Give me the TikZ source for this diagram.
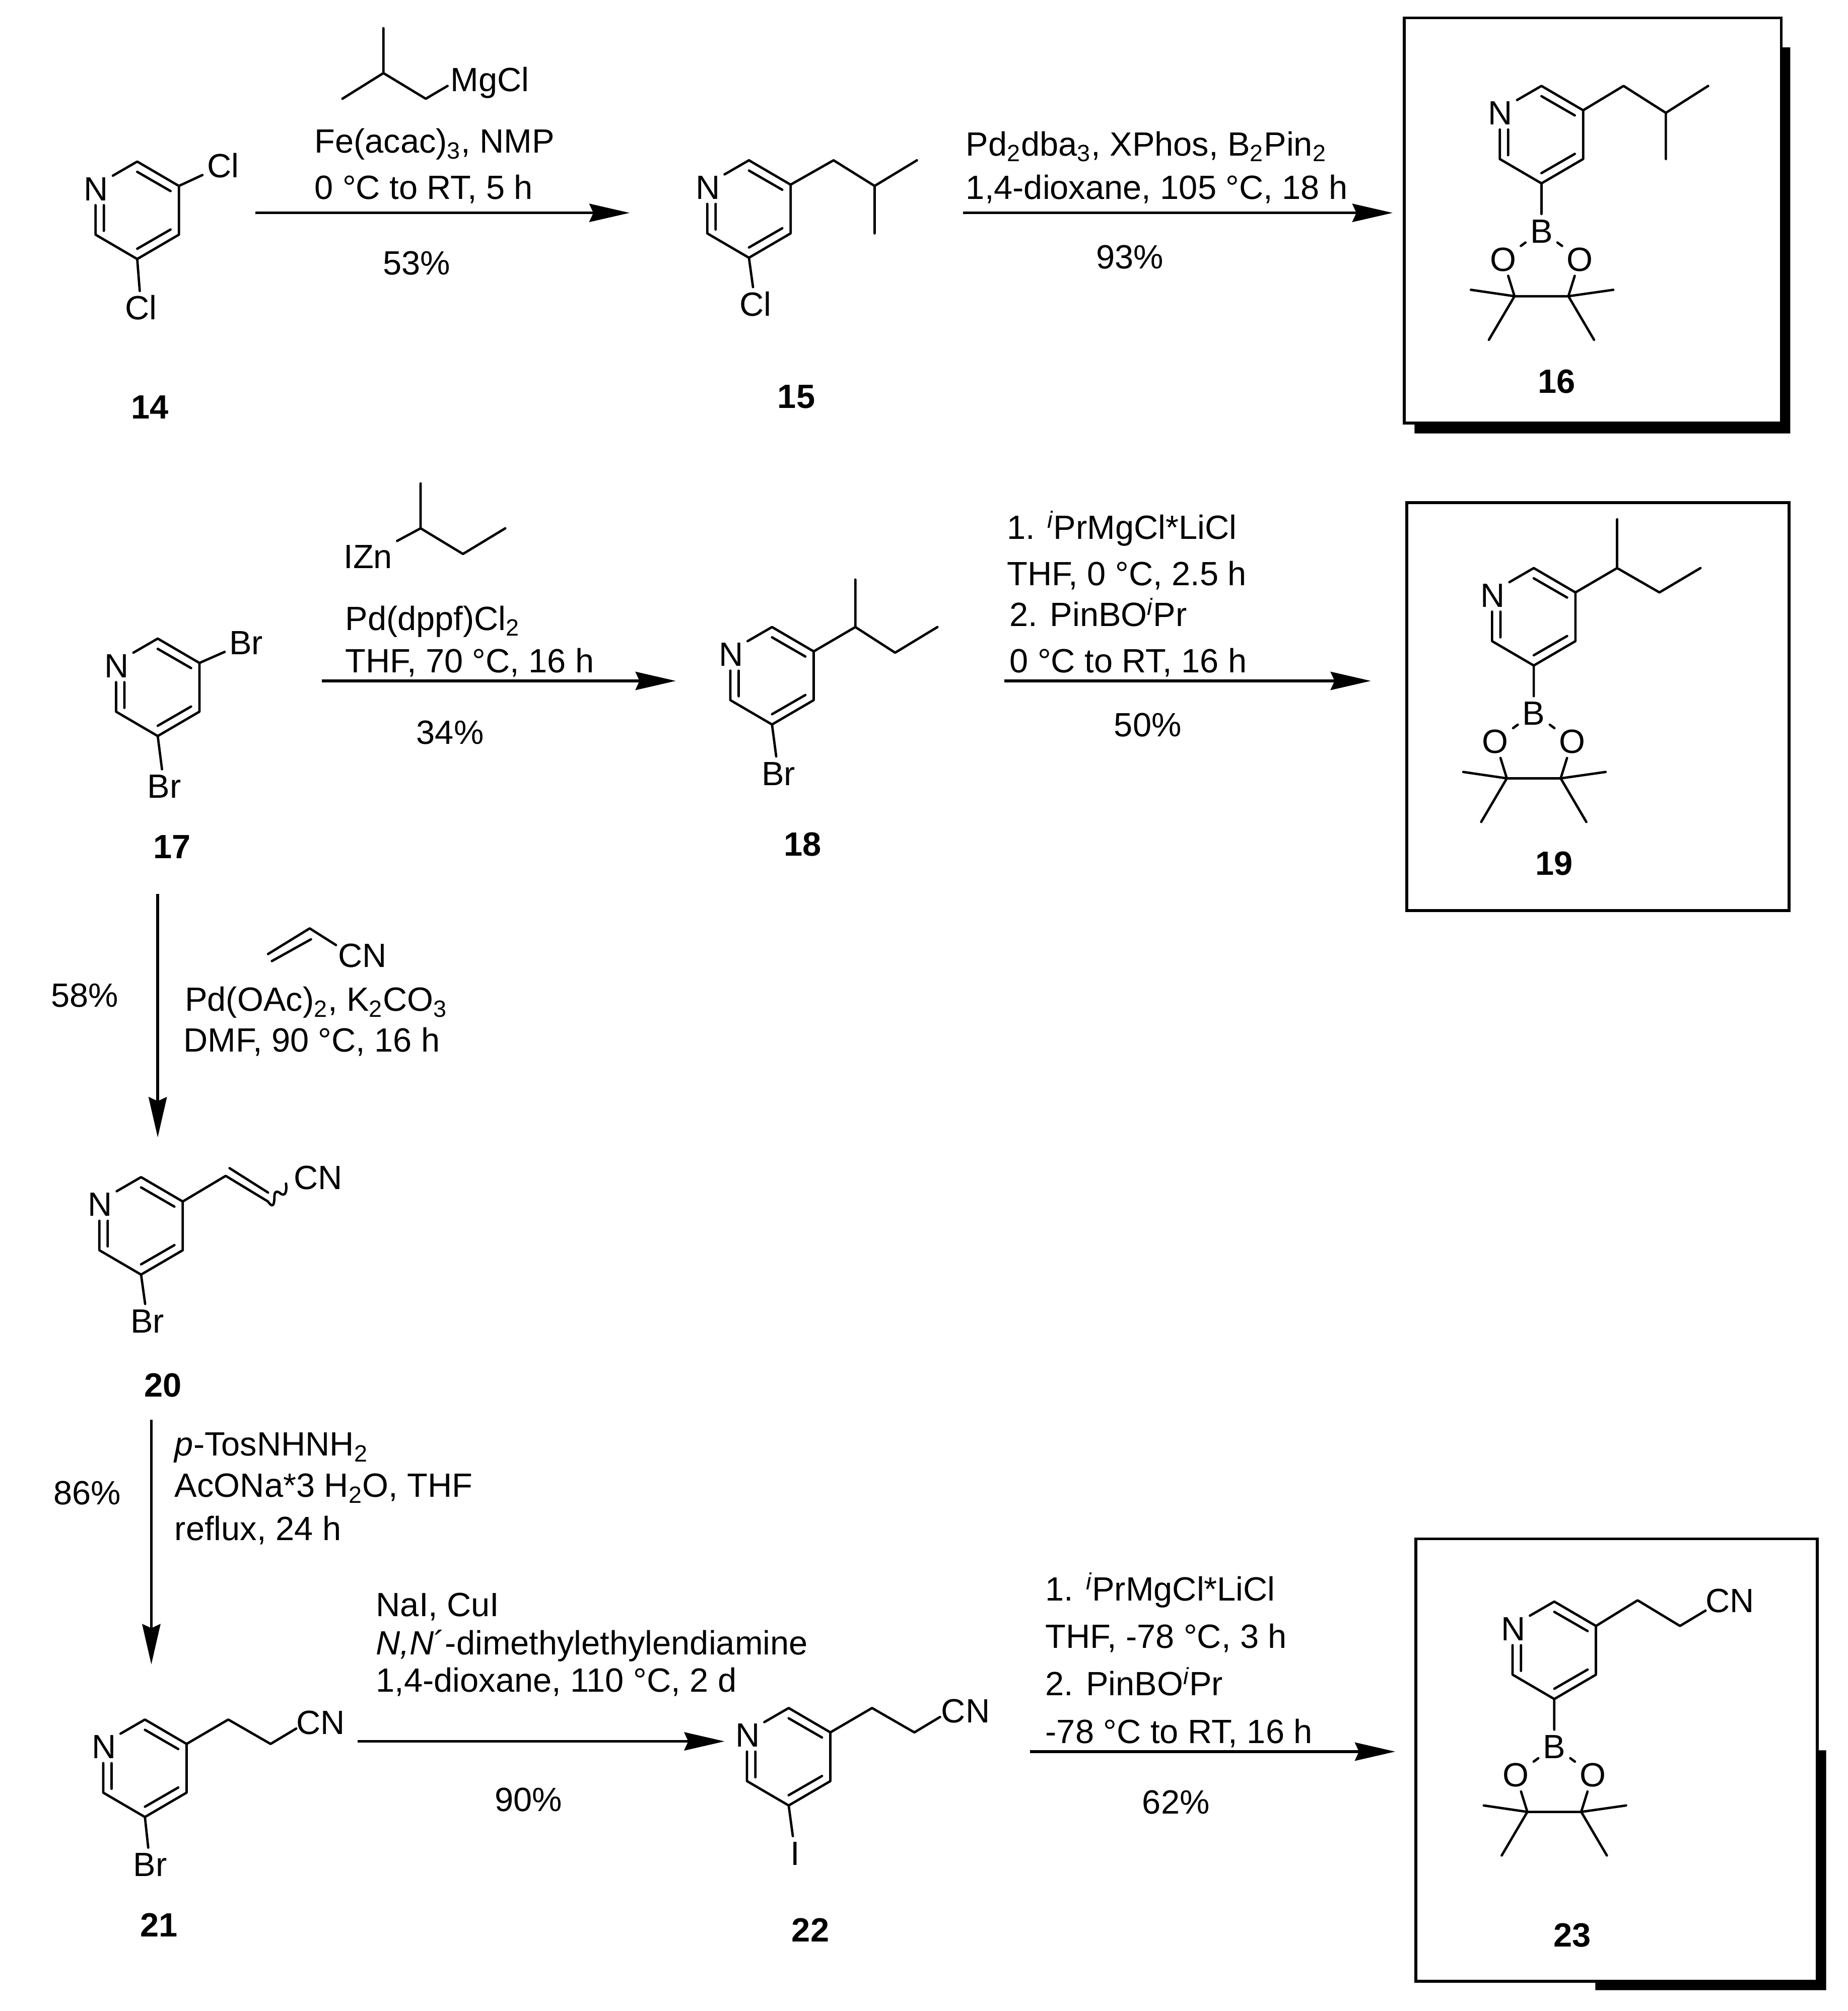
\documentclass[tikz,border=0pt]{standalone}
\usepackage{fontspec}
\setmainfont{Liberation Sans}
\usetikzlibrary{arrows.meta,calc}
\newcommand{\rxnfont}{\fontsize{19}{23}\selectfont}
\tikzset{
  bond/.style={line width=1.35pt,line cap=round,line join=round},
  rxn/.style={line width=1.6pt,-{Stealth[length=8mm,width=3.6mm,inset=0.8mm]}},
  txt/.style={font=\rxnfont,inner sep=0pt,text height=13.6pt,text depth=0pt},
  atom/.style={txt,inner sep=2.5pt},
  cmpd/.style={txt,font=\rxnfont\bfseries},
  frame/.style={line width=1.6pt},
  pyridine/.pic={
    \coordinate (-a) at (0,-38);
    \coordinate (-b) at (32.5,-19);
    \coordinate (-c) at (32.5,19);
    \coordinate (-d) at (0,38);
    \coordinate (-e) at (-32.5,19);
    \node[atom] (-n) at (-32,-17) {N};
    \draw[bond] (-19,-27) -- (-a) -- (-b) -- (-c) -- (-d) -- (-e) -- (-32.5,-4);
    \draw[bond] (0,-30) -- (26,-15) (26,15) -- (0,30) (-26,16) -- (-26,-4);
  },
  bpin/.pic={
    \node[atom] (-b) at (0,37) {B};
    \node[atom] (-o1) at (-30,59) {O};
    \node[atom] (-o2) at (30,59) {O};
    \coordinate (-c1) at (-21,88);
    \coordinate (-c2) at (21,88);
    \draw[bond] (0,0) -- (-b) (-b) -- (-o1) (-b) -- (-o2);
    \draw[bond] (-o1) -- (-c1) -- (-c2) -- (-o2);
    \draw[bond] (-55,83) -- (-c1) -- (-41,122);
    \draw[bond] (56,83) -- (-c2) -- (41,122);
  }
}
\begin{document}
\begin{tikzpicture}[x=0.025461cm,y=-0.025461cm]
\useasboundingbox (0,0) rectangle (1441,1568.3);
% Frames
\fill (1389,37) rectangle (1396,338) (1103,330) rectangle (1396,338);
\fill[white,draw=black,frame] (1095,14) rectangle (1389,330);
\draw[frame] (1097,392) rectangle (1395,710);
\fill (1417,1365) rectangle (1424,1552) (1244,1545) rectangle (1424,1552);
\fill[white,draw=black,frame] (1104,1200) rectangle (1417,1545);
% 14
\pic (m14) at (107,164) {pyridine};
\node[atom] (m14x) at (174,129) {Cl};
\node[atom] (m14y) at (110,240) {Cl};
\draw[bond] (m14-b) -- (m14x) (m14-d) -- (m14y);
\node[cmpd] (l14) at (117,317) {14};
% 15
\pic (m15) at (584,163) {pyridine};
\node[atom] (m15y) at (589,237) {Cl};
\draw[bond] (m15-d) -- (m15y);
\draw[bond] (m15-b) -- (650,125) -- (682,145) -- (715,125) (682,145) -- (682,182);
\node[cmpd] (l15) at (621,309) {15};
% 16
\pic (m16) at (1202,105) {pyridine};
\pic (p16) at (m16-d) {bpin};
\draw[bond] (m16-b) -- (1266,67) -- (1299,88) -- (1332,67) (1299,88) -- (1299,124);
\node[cmpd] (l16) at (1214,297) {16};
% 17
\pic (m17) at (123,536) {pyridine};
\node[atom] (m17x) at (192,501) {Br};
\node[atom] (m17y) at (128,613) {Br};
\draw[bond] (m17-b) -- (m17x) (m17-d) -- (m17y);
\node[cmpd] (l17) at (134,660) {17};
% 18
\pic (m18) at (602,527) {pyridine};
\node[atom] (m18y) at (607,603) {Br};
\draw[bond] (m18-d) -- (m18y);
\draw[bond] (m18-b) -- (667,489) -- (667,452) (667,489) -- (698,509) -- (731,489);
\node[cmpd] (l18) at (626,658) {18};
% 19
\pic (m19) at (1196,481) {pyridine};
\pic (p19) at (m19-d) {bpin};
\draw[bond] (m19-b) -- (1261,443) -- (1261,405) (1261,443) -- (1294,462) -- (1326,443);
\node[cmpd] (l19) at (1212,673) {19};
% 20
\pic (m20) at (110,956) {pyridine};
\node[atom] (m20y) at (115,1030) {Br};
\node[atom] (m20z) at (248,918) {CN};
\draw[bond] (m20-d) -- (m20y);
\draw[bond] (m20-b) -- (176,917) -- (209,937) .. controls (213,943) and (214,939) .. (214,933) .. controls (214,928) and (217,929) .. (219,931) .. controls (222,933) and (224,930) .. (223,923);
\draw[bond] (179,911) -- (209,930);
\node[cmpd] (l20) at (127,1080) {20};
% 21
\pic (m21) at (113,1379) {pyridine};
\node[atom] (m21y) at (117,1454) {Br};
\node[atom] (m21z) at (250,1343) {CN};
\draw[bond] (m21-d) -- (m21y);
\draw[bond] (m21-b) -- (178,1341) -- (211,1360) -- (231,1348);
\node[cmpd] (l21) at (124,1501) {21};
% 22
\pic (m22) at (615,1370) {pyridine};
\node[atom] (m22y) at (620,1445) {I};
\node[atom] (m22z) at (753,1334) {CN};
\draw[bond] (m22-d) -- (m22y);
\draw[bond] (m22-b) -- (680,1332) -- (713,1351) -- (733,1339);
\node[cmpd] (l22) at (632,1505) {22};
% 23
\pic (m23) at (1212,1287) {pyridine};
\pic (p23) at (m23-d) {bpin};
\node[atom] (m23z) at (1349,1248) {CN};
\draw[bond] (m23-b) -- (1277,1248) -- (1310,1268) -- (1330,1256);
\node[cmpd] (l23) at (1226,1509) {23};
% Reaction arrows
\coordinate (s1) at (199,166); \coordinate (e1) at (491,166);
\coordinate (s2) at (751,166); \coordinate (e2) at (1086,166);
\coordinate (s3) at (251,531); \coordinate (e3) at (527,531);
\coordinate (s4) at (783,531); \coordinate (e4) at (1069,531);
\coordinate (s5) at (123,697); \coordinate (e5) at (123,887);
\coordinate (s6) at (118,1107); \coordinate (e6) at (118,1298);
\coordinate (s7) at (279,1358); \coordinate (e7) at (565,1358);
\coordinate (s8) at (803,1366); \coordinate (e8) at (1088,1366);
\draw[rxn] (s1) -- (e1);
\draw[rxn] (s2) -- (e2);
\draw[rxn] (s3) -- (e3);
\draw[rxn] (s4) -- (e4);
\draw[rxn] (s5) -- (e5);
\draw[rxn] (s6) -- (e6);
\draw[rxn] (s7) -- (e7);
\draw[rxn] (s8) -- (e8);
% Grignard and zinc reagents
\node[atom] (r1) at (382,62) {MgCl};
\draw[bond] (267,77) -- (299,57) -- (299,22) (299,57) -- (332,77) -- (349,67);
\node[atom] (r3) at (287,434) {IZn};
\draw[bond] (r3) -- (328,412) -- (328,377) (328,412) -- (361,432) -- (394,412);
\node[atom] (r5) at (282.5,745) {CN};
\draw[bond] (209,744) -- (241.5,724) -- (262,737) (212,749.5) -- (242.5,732.5);
% Conditions
\node[txt,anchor=west] (t1a) at (245,110) {Fe(acac)\textsubscript{3}, NMP};
\node[txt,anchor=west] (t1b) at (245,146) {0 °C to RT, 5 h};
\node[txt] (t1c) at (325,205) {53\%};
\node[txt,anchor=west] (t2a) at (753,112) {Pd\textsubscript{2}dba\textsubscript{3}, XPhos, B\textsubscript{2}Pin\textsubscript{2}};
\node[txt,anchor=west] (t2b) at (753,146) {1,4-dioxane, 105 °C, 18 h};
\node[txt] (t2c) at (881,200) {93\%};
\node[txt,anchor=west] (t3a) at (269,482) {Pd(dppf)Cl\textsubscript{2}};
\node[txt,anchor=west] (t3b) at (269,515) {THF, 70 °C, 16 h};
\node[txt] (t3c) at (351,571) {34\%};
\node[txt,anchor=west] (t4a) at (785,411) {1. \textsuperscript{\itshape i}PrMgCl*LiCl};
\node[txt,anchor=west] (t4b) at (785,447) {THF, 0 °C, 2.5 h};
\node[txt,anchor=west] (t4c) at (787,479) {2. PinBO\textsuperscript{\itshape i}Pr};
\node[txt,anchor=west] (t4d) at (787,515) {0 °C to RT, 16 h};
\node[txt] (t4e) at (895,565) {50\%};
\node[txt,anchor=west] (t5a) at (144,779) {Pd(OAc)\textsubscript{2}, K\textsubscript{2}CO\textsubscript{3}};
\node[txt,anchor=west] (t5b) at (143,811) {DMF, 90 °C, 16 h};
\node[txt] (t5c) at (66,776) {58\%};
\node[txt,anchor=west] (t6a) at (136,1126) {\textit{p}-TosNHNH\textsubscript{2}};
\node[txt,anchor=west] (t6b) at (136,1158) {AcONa*3 H\textsubscript{2}O, THF};
\node[txt,anchor=west] (t6c) at (136,1192) {reflux, 24 h};
\node[txt] (t6d) at (68,1164) {86\%};
\node[txt,anchor=west] (t7a) at (293,1251) {NaI, CuI};
\node[txt,anchor=west] (t7b) at (293,1281) {\textit{N,N}´-dimethylethylendiamine};
\node[txt,anchor=west] (t7c) at (293,1310) {1,4-dioxane, 110 °C, 2 d};
\node[txt] (t7d) at (412,1403) {90\%};
\node[txt,anchor=west] (t8a) at (815,1239) {1. \textsuperscript{\itshape i}PrMgCl*LiCl};
\node[txt,anchor=west] (t8b) at (815,1276) {THF, -78 °C, 3 h};
\node[txt,anchor=west] (t8c) at (815,1313) {2. PinBO\textsuperscript{\itshape i}Pr};
\node[txt,anchor=west] (t8d) at (815,1350) {-78 °C to RT, 16 h};
\node[txt] (t8e) at (917,1405) {62\%};
\end{tikzpicture}
\end{document}
